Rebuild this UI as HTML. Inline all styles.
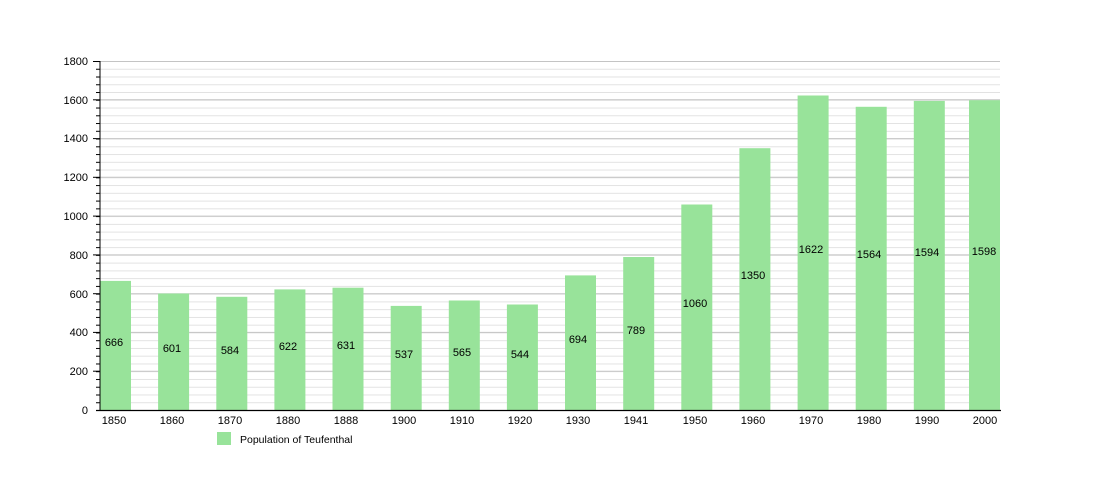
<!DOCTYPE html>
<html><head><meta charset="utf-8"><style>body{margin:0;background:#fff}svg{display:block}text{font-family:"Liberation Sans",sans-serif;font-size:11px;fill:#000}</style></head><body>
<svg width="1100" height="500" viewBox="0 0 1100 500">
<defs>
<pattern id="g" x="100" y="61" width="900" height="7.7556" patternUnits="userSpaceOnUse"><line x1="0" y1="0.5" x2="900" y2="0.5" stroke="#e2e2e2" stroke-width="1"/></pattern>
<pattern id="t" x="96" y="61" width="4" height="7.7556" patternUnits="userSpaceOnUse"><line x1="0" y1="0.5" x2="4" y2="0.5" stroke="#000" stroke-width="1"/></pattern>
</defs>
<rect x="100" y="61" width="900" height="349" fill="url(#g)"/>
<rect x="96" y="61" width="4" height="349" fill="url(#t)"/>
<g stroke="#c4c4c4" stroke-width="1">
<line x1="100" y1="371.2" x2="1000" y2="371.2"/><line x1="100" y1="332.4" x2="1000" y2="332.4"/><line x1="100" y1="293.7" x2="1000" y2="293.7"/><line x1="100" y1="254.9" x2="1000" y2="254.9"/><line x1="100" y1="216.1" x2="1000" y2="216.1"/><line x1="100" y1="177.3" x2="1000" y2="177.3"/><line x1="100" y1="138.6" x2="1000" y2="138.6"/><line x1="100" y1="99.8" x2="1000" y2="99.8"/><line x1="100" y1="61.5" x2="1000" y2="61.5"/>
</g>
<g stroke="#000" stroke-width="1">
<line x1="93" y1="371.2" x2="100" y2="371.2"/><line x1="93" y1="332.4" x2="100" y2="332.4"/><line x1="93" y1="293.7" x2="100" y2="293.7"/><line x1="93" y1="254.9" x2="100" y2="254.9"/><line x1="93" y1="216.1" x2="100" y2="216.1"/><line x1="93" y1="177.3" x2="100" y2="177.3"/><line x1="93" y1="138.6" x2="100" y2="138.6"/><line x1="93" y1="99.8" x2="100" y2="99.8"/><line x1="93" y1="61.5" x2="100" y2="61.5"/>
</g>
<g fill="#98e39a">
<rect x="100" y="280.9" width="31" height="129.1"/>
<rect x="158.1" y="293.5" width="31" height="116.5"/>
<rect x="216.3" y="296.8" width="31" height="113.2"/>
<rect x="274.4" y="289.4" width="31" height="120.6"/>
<rect x="332.5" y="287.7" width="31" height="122.3"/>
<rect x="390.7" y="305.9" width="31" height="104.1"/>
<rect x="448.8" y="300.5" width="31" height="109.5"/>
<rect x="506.9" y="304.5" width="31" height="105.5"/>
<rect x="565" y="275.4" width="31" height="134.6"/>
<rect x="623.2" y="257" width="31" height="153"/>
<rect x="681.3" y="204.5" width="31" height="205.5"/>
<rect x="739.4" y="148.2" width="31" height="261.8"/>
<rect x="797.6" y="95.5" width="31" height="314.5"/>
<rect x="855.7" y="106.8" width="31" height="303.2"/>
<rect x="913.8" y="100.9" width="31" height="309.1"/>
<rect x="969" y="100.2" width="31" height="309.8"/>
</g>
<line x1="100" y1="61" x2="100" y2="410.5" stroke="#000" stroke-width="1"/>
<line x1="96" y1="410.5" x2="1001" y2="410.5" stroke="#000" stroke-width="1.2"/>
<g text-anchor="end">
<text x="88" y="414">0</text><text x="88" y="375">200</text><text x="88" y="336">400</text><text x="88" y="298">600</text><text x="88" y="259">800</text><text x="88" y="220">1000</text><text x="88" y="181">1200</text><text x="88" y="142">1400</text><text x="88" y="104">1600</text><text x="88" y="65">1800</text>
</g>
<g text-anchor="middle">
<text x="114" y="346">666</text><text x="172" y="352">601</text><text x="230" y="354">584</text><text x="288" y="350">622</text><text x="346" y="349">631</text><text x="404" y="358">537</text><text x="462" y="356">565</text><text x="520" y="358">544</text><text x="578" y="343">694</text><text x="636" y="334">789</text><text x="695" y="307">1060</text><text x="753" y="279">1350</text><text x="811" y="253">1622</text><text x="869" y="258">1564</text><text x="927" y="256">1594</text><text x="984" y="255">1598</text>
</g>
<g text-anchor="middle">
<text x="114" y="424">1850</text><text x="172" y="424">1860</text><text x="230" y="424">1870</text><text x="288" y="424">1880</text><text x="346" y="424">1888</text><text x="404" y="424">1900</text><text x="462" y="424">1910</text><text x="520" y="424">1920</text><text x="578" y="424">1930</text><text x="636" y="424">1941</text><text x="695" y="424">1950</text><text x="753" y="424">1960</text><text x="811" y="424">1970</text><text x="869" y="424">1980</text><text x="927" y="424">1990</text><text x="985" y="424">2000</text>
</g>
<rect x="217" y="432" width="14" height="13" fill="#98e39a"/>
<text x="240" y="443" style="font-size:10.5px">Population of Teufenthal</text>
</svg>
</body></html>
